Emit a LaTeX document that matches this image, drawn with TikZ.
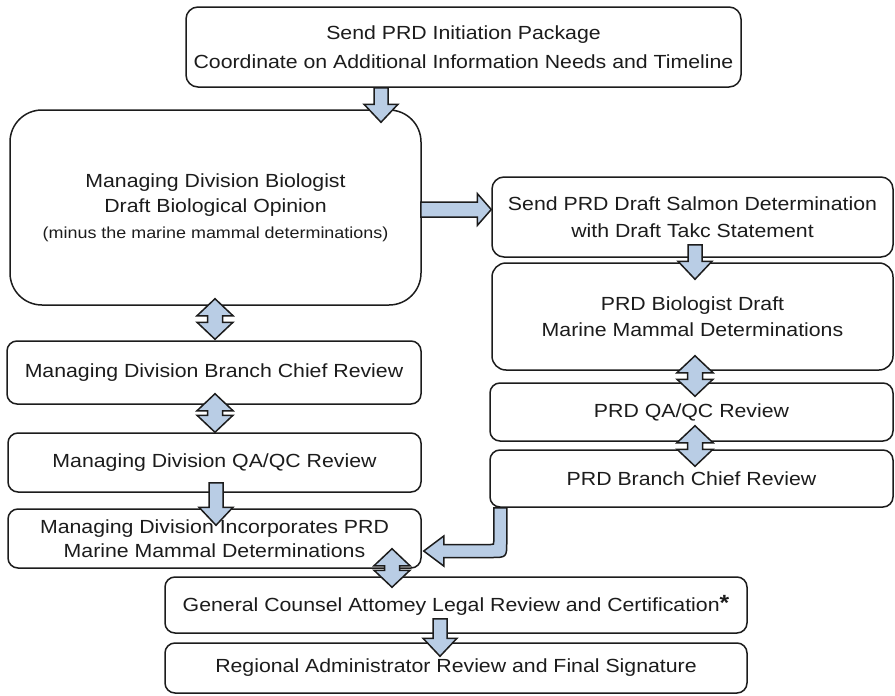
\documentclass[tikz,border=0pt]{standalone}
\usepackage{fontspec}
\setmainfont{Liberation Sans}[FakeStretch=1.12]
\usetikzlibrary{calc}
\definecolor{ink}{HTML}{1C1C1C}
\definecolor{arrowfill}{HTML}{B9CDE5}
\tikzset{
  box/.style={draw=ink, line width=1.5pt, fill=white, text=ink, align=center,
    inner sep=0pt, font=\fontsize{19pt}{26.5pt}\selectfont},
  barrow/.style={draw=ink, line width=1.5pt, fill=arrowfill, line join=miter},
  downarrow/.style={to path={let \p1=(\tikztostart), \p2=(\tikztotarget) in
    (\x1-7pt,\y1) -- (\x1+7pt,\y1) -- (\x1+7pt,\y2+18pt) -- (\x1+17pt,\y2+18pt)
    -- (\x1,\y2) -- (\x1-17pt,\y2+18pt) -- (\x1-7pt,\y2+18pt) -- cycle}},
  dblarrow/.style={to path={let \p1=(\tikztostart), \p2=(\tikztotarget) in
    (\x1,\y1) -- (\x1+18pt,\y1-17pt) -- (\x1+7.5pt,\y1-17pt) -- (\x1+7.5pt,\y2+17pt)
    -- (\x1+18pt,\y2+17pt) -- (\x1,\y2) -- (\x1-18pt,\y2+17pt) -- (\x1-7.5pt,\y2+17pt)
    -- (\x1-7.5pt,\y1-17pt) -- (\x1-18pt,\y1-17pt) -- cycle}},
  rightarrow/.style={to path={let \p1=(\tikztostart), \p2=(\tikztotarget) in
    (\x1,\y1+7.5pt) -- (\x2-14pt,\y1+7.5pt) -- (\x2-14pt,\y1+16pt) -- (\x2,\y1)
    -- (\x2-14pt,\y1-16pt) -- (\x2-14pt,\y1-7.5pt) -- (\x1,\y1-7.5pt) -- cycle}},
  elbowarrow/.style={to path={let \p1=(\tikztostart), \p2=(\tikztotarget) in
    (\x1-6.5pt,\y1) -- (\x1-6.5pt,\y2+9.5pt) .. controls (\x1-6.5pt,\y2+6.5pt) .. (\x1-9.5pt,\y2+6.5pt)
    -- (\x2+20pt,\y2+6.5pt) -- (\x2+20pt,\y2+15pt) -- (\x2,\y2) -- (\x2+20pt,\y2-15pt)
    -- (\x2+20pt,\y2-6.5pt) -- (\x1-9.5pt,\y2-6.5pt) .. controls (\x1+6.5pt,\y2-6.5pt) .. (\x1+6.5pt,\y2+9.5pt)
    -- (\x1+6.5pt,\y1) -- cycle}}
}
\begin{document}
\begin{tikzpicture}[x=1pt,y=-1pt]
\useasboundingbox (0,0) rectangle (895,696);
\fill[white] (0,0) rectangle (895,696);

% boxes
\node[box, minimum width=555pt, minimum height=80pt, rounded corners=12pt] (top) at (463.5,47)
  {Send PRD Initiation Package\\[2pt]Coordinate on Additional Information Needs and Timeline};
\node[box, minimum width=411pt, minimum height=195pt, rounded corners=32pt] (big) at (215.5,207.5)
  {Managing Division Biologist\\[-1pt]Draft Biological Opinion\\[-1pt]{\fontsize{16pt}{20pt}\selectfont (minus the marine mammal determinations)}};
\node[box, minimum width=414pt, minimum height=63pt, rounded corners=10pt] (bcr) at (214,372.5)
  {Managing Division Branch Chief Review};
\node[box, minimum width=413pt, minimum height=59pt, rounded corners=10pt] (qal) at (214.5,462.5)
  {Managing Division QA/QC Review};
\node[box, minimum width=413pt, minimum height=59pt, rounded corners=10pt] (inc) at (214.5,538.5)
  {Managing Division Incorporates PRD\\[-3pt]Marine Mammal Determinations};
\node[box, minimum width=401pt, minimum height=80pt, rounded corners=12pt] (salmon) at (692.5,217)
  {Send PRD Draft Salmon Determination\\with Draft Takc Statement};
\node[box, minimum width=401pt, minimum height=107pt, rounded corners=14pt] (prdbio) at (692.5,316.5)
  {PRD Biologist Draft\\[-1pt]Marine Mammal Determinations};
\node[box, minimum width=403pt, minimum height=58pt, rounded corners=10pt] (prdqa) at (691.5,412)
  {PRD QA/QC Review};
\node[box, minimum width=403pt, minimum height=57pt, rounded corners=10pt] (prdbc) at (691.5,478.5)
  {PRD Branch Chief Review};
\node[box, minimum width=582pt, minimum height=56pt, rounded corners=10pt] (gc) at (456,605)
  {General Counsel Attomey Legal Review and Certification\raisebox{1pt}{\fontsize{22pt}{22pt}\selectfont\bfseries *}};
\node[box, minimum width=582pt, minimum height=50pt, rounded corners=10pt] (ra) at (456,668)
  {Regional Administrator Review and Final Signature};

% block arrows
\draw[barrow] ($(top.south)+(-82.5,0)$) to[downarrow] ($(big.north)+(165.5,13)$);
\draw[barrow] ($(big.east)+(-1,2)$) to[rightarrow] ($(salmon.west)+(0,-7.5)$);
\draw[barrow] ($(big.south)+(-0.5,-7)$) to[dblarrow] ($(bcr.north)+(1,-1)$);
\draw[barrow] ($(bcr.south)+(1,-11)$) to[dblarrow] ($(qal.north)+(0.5,0)$);
\draw[barrow] ($(qal.south)+(1.5,-10)$) to[downarrow] ($(inc.north)+(1.5,17)$);
\draw[barrow] ($(salmon.south)+(2.5,-13)$) to[downarrow] ($(prdbio.north)+(2.5,17)$);
\draw[barrow] ($(prdbio.south)+(2.5,-15)$) to[dblarrow] ($(prdqa.north)+(3.5,14)$);
\draw[barrow] ($(prdqa.south)+(3.5,-16)$) to[dblarrow] ($(prdbc.north)+(3.5,17)$);
\draw[barrow] ($(prdbc.south west)+(11,0)$) to[elbowarrow] ($(inc.east)+(2,12.5)$);
\draw[barrow] ($(inc.south)+(177.5,-20)$) to[dblarrow] ($(gc.north)+(-64,11)$);
\draw[barrow] ($(gc.south)+(-16,-15)$) to[downarrow] ($(ra.north)+(-16,14)$);
\end{tikzpicture}
\end{document}
